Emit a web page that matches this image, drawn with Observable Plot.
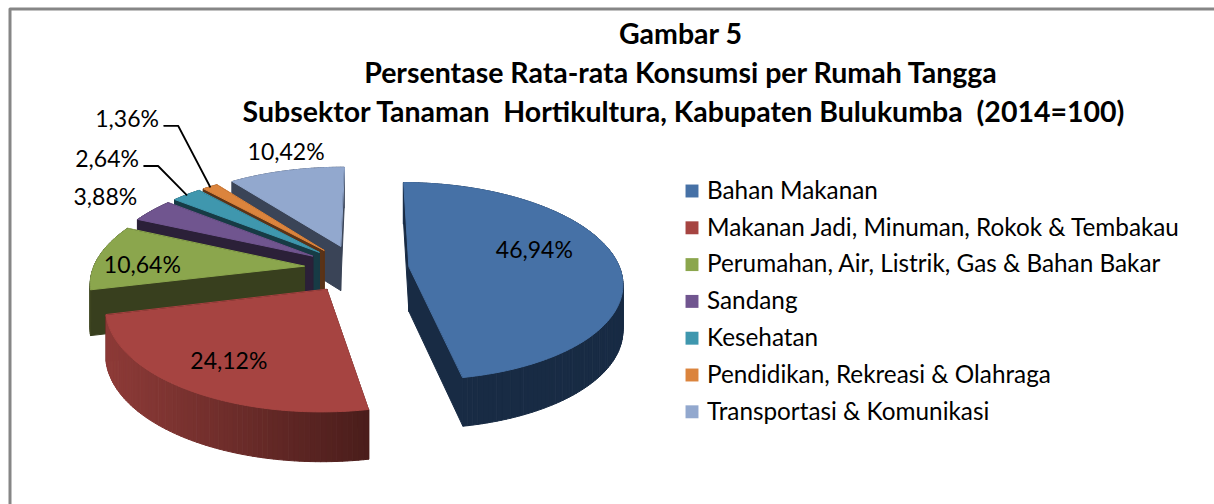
<!DOCTYPE html>
<html><head><meta charset="utf-8">
<script src="https://cdn.jsdelivr.net/npm/d3@7"></script>
<script src="https://cdn.jsdelivr.net/npm/@observablehq/plot@0.6"></script>
<style>html,body{margin:0;padding:0;background:#fff}svg{display:block}</style>
</head><body><div id="chart"></div>
<script>
// ---- data ----
const categories = ["Bahan Makanan","Makanan Jadi, Minuman, Rokok & Tembakau","Perumahan, Air, Listrik, Gas & Bahan Bakar","Sandang","Kesehatan","Pendidikan, Rekreasi & Olahraga","Transportasi & Komunikasi"];
const shares = [46.94,24.12,10.64,3.88,2.64,1.36,10.42];
const valueLabels = ["46,94%","24,12%","10,64%","3,88%","2,64%","1,36%","10,42%"];
const titleLines = ["Gambar 5","Persentase Rata-rata Konsumsi per Rumah Tangga","Subsektor Tanaman  Hortikultura, Kabupaten Bulukumba  (2014=100)"];
const topColors = ["#4671a6","#a64441","#8ba64d","#70558f","#3f97ae","#db843d","#92a8ce"];
const wallDark = ["#182b44","#4a1d1b","#383f1e","#2b2038","#173b45","#5a3317","#3a4457"];
const wallLight = ["#203a5c","#8e3b38","#3d4521","#2f233d","#193f4a","#643a1a","#3c465a"];
// label placement: radial position on the slice, then a nudge in px
const labelR = [0.62,0.72,0.78,1.25,1.25,1.25,1.2];
const labelNudge = [[-3,-11],[-1,3],[-1,7],[-10,-3],[-50,-22],[-58,-53],[9,-5]];

// ---- layout of the 3D exploded pie ----
const W=1214,H=504, cx=356, cy=268, Rx=211, Ry=97, explode=0.25, depth=45, persp=0.15, wallPersp=0.08, rot=0.5;
const rad=d=>d*Math.PI/180;
const k=v=>1/(1+persp*v);
// plane coords (u right, v back) -> page
const proj=(u,v,down=0)=>[cx+Rx*u*k(v), cy-Ry*v*k(v)+down*depth/(1+wallPersp*v)];
const total=d3.sum(shares);
let acc=rot;
const slices=shares.map((s,i)=>{const a0=acc,a1=acc+s/total*360;acc=a1;
  const m=(a0+a1)/2;return {i,a0,a1,bu:Math.sin(rad(m))*explode,bv:Math.cos(rad(m))*explode,m};});
const pt=(s,a,r)=>[s.bu+r*Math.sin(rad(a)),s.bv+r*Math.cos(rad(a))];
const poly=(ring,fill)=>({type:"Feature",properties:{fill},geometry:{type:"Polygon",coordinates:[[...ring,ring[0]]]}});

const features=[];
// slices are painted back to front
const paint=[6,5,4,3,2,0,1];
paint.forEach(i=>{
  const s=slices[i]; const walls=[];
  const wallQuad=(A,B,fill)=>{walls.push({v:(A[1]+B[1])/2,f:poly([proj(...A),proj(...B),proj(...B,1),proj(...A,1)],fill)});};
  const apex=[s.bu,s.bv];
  wallQuad(apex,pt(s,s.a0,1),wallDark[i]);
  wallQuad(apex,pt(s,s.a1,1),wallDark[i]);
  const n=Math.max(4,Math.ceil((s.a1-s.a0)/1.2));
  const xs=d3.range(n+1).map(j=>proj(...pt(s,s.a0+(s.a1-s.a0)*j/n,1))[0]);
  const [x0,x1]=d3.extent(xs);
  for(let j=0;j<n;j++){
    const a=s.a0+(s.a1-s.a0)*j/n,b=s.a0+(s.a1-s.a0)*(j+1)/n;
    const t=(((xs[j]+xs[j+1])/2)-x0)/(x1-x0);
    const fill=i===0?d3.interpolateRgb(wallLight[i],wallDark[i])(Math.min(1,t*4)):d3.interpolateRgb(wallLight[i],wallDark[i])(t);
    wallQuad(pt(s,a,1),pt(s,b,1),fill);
  }
  walls.sort((p,q)=>q.v-p.v).forEach(w=>features.push(w.f));
  const ring=[proj(...apex)];
  const m=Math.ceil((s.a1-s.a0)/1)+1;
  for(let j=0;j<=m;j++)ring.push(proj(...pt(s,s.a0+(s.a1-s.a0)*j/m,1)));
  features.push(poly(ring,topColors[i]));
});

const labels=slices.map((s,i)=>{const [x,y]=proj(...pt(s,s.m,labelR[i]));return {x:x+labelNudge[i][0],y:y+labelNudge[i][1],t:valueLabels[i]};});
// elbow leader lines for the two thinnest labelled slices
const leaders=[4,5].flatMap(i=>{const e=proj(...pt(slices[i],slices[i].m,1));const l=labels[i];
  return [{z:i,x:l.x+37,y:l.y+6},{z:i,x:l.x+51,y:l.y+6},{z:i,x:e[0],y:e[1]}];});

const legendRows=categories.map((c,i)=>({c,i,x:691.5,y:190.5+i*36.8,fill:topColors[i]}));
const titleRows=titleLines.map((t,i)=>({t,x:i===2?683:680,y:34+i*39.3}));
const frame={type:"LineString",coordinates:[[9.5,H],[9.5,8.5],[W,8.5]]};

const chart=Plot.plot({
  width:W,height:H,margin:0,style:{background:"#fff",fontFamily:"Lato, sans-serif"},
  projection:{type:"identity"},
  color:{type:"identity"},
  marks:[
    Plot.geo([frame],{stroke:"#868686",strokeWidth:3,fill:"none"}),
    Plot.geo(features,{fill:d=>d.properties.fill,stroke:d=>d.properties.fill,strokeWidth:1}),
    Plot.line(leaders,{x:"x",y:"y",z:"z",stroke:"#000",strokeWidth:1.8,curve:"linear"}),
    Plot.text(labels,{x:"x",y:"y",text:"t",fontSize:23,fill:"#000",textAnchor:"middle"}),
    Plot.dot(legendRows,{x:"x",y:"y",symbol:"square",r:7.3,fill:"fill",stroke:"none"}),
    Plot.text(legendRows,{x:d=>d.x+15,y:"y",text:"c",fontSize:24.3,fill:"#000",textAnchor:"start"}),
    Plot.text(titleRows,{x:"x",y:"y",text:"t",fontSize:28.5,fontWeight:"bold",fill:"#000",textAnchor:"middle"})
  ]
});
document.getElementById("chart").append(chart);
</script></body></html>
